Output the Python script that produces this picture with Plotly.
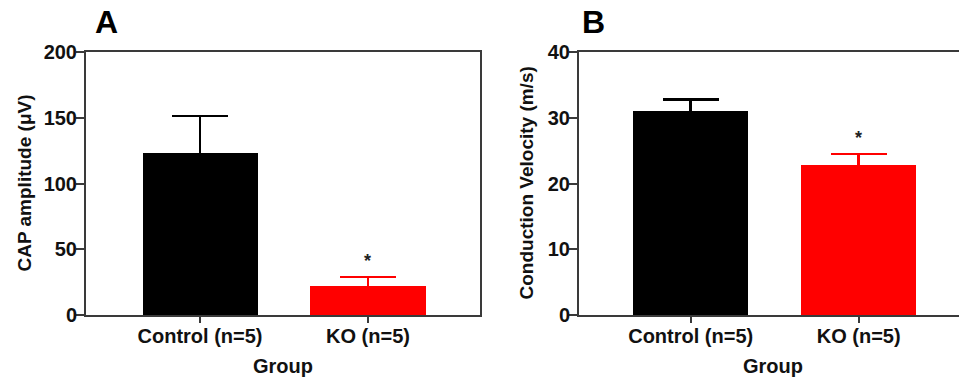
import plotly.graph_objects as go

groups = ["Control (n=5)", "KO (n=5)"]
cap_mean = [123.5, 22.0]
cap_sem = [28.0, 7.0]
cv_mean = [31.0, 22.8]
cv_sem = [1.8, 1.7]
colors = ["#000000", "#FF0000"]
cap_ticks = [0, 50, 100, 150, 200]
cv_ticks = [0, 10, 20, 30, 40]

FONT = "Liberation Sans, Arial, sans-serif"
OFF = 8  # page body margin
W, H = 967 - OFF, 380 - OFF


def px(x):
    return (x - OFF) / W


def py(y):
    return 1 - (y - OFF) / H


fig = go.Figure()

for i, g in enumerate(groups):
    fig.add_trace(go.Bar(
        x=[g], y=[cap_mean[i]], width=0.685,
        marker=dict(color=colors[i], line=dict(width=0)),
        error_y=dict(type="data", array=[cap_sem[i]], symmetric=True,
                     color=colors[i], thickness=2.5, width=28),
        xaxis="x", yaxis="y", showlegend=False))
    fig.add_trace(go.Bar(
        x=[g], y=[cv_mean[i]], width=0.685,
        marker=dict(color=colors[i], line=dict(width=0)),
        error_y=dict(type="data", array=[cv_sem[i]], symmetric=True,
                     color=colors[i], thickness=2.5, width=28),
        xaxis="x2", yaxis="y2", showlegend=False))

axcol = "#3a3a3a"
tickfont = dict(family=FONT, size=20, color="#111111", weight="bold")

ydom = [py(315), py(52)]
common = dict(showline=True, linecolor=axcol, linewidth=2, ticks="outside",
              tickwidth=1.5, tickcolor=axcol, tickfont=tickfont, showgrid=False,
              zeroline=False, automargin=False)

fig.update_layout(
    width=W, height=H,
    margin=dict(l=0, r=0, t=0, b=0, autoexpand=False),
    paper_bgcolor="white", plot_bgcolor="white",
    bargap=0,
    xaxis=dict(domain=[px(86), px(480)], type="category", range=[-0.679, 1.667],
               mirror=True, ticklen=6, anchor="y", ticklabelstandoff=-4, **common),
    yaxis=dict(domain=ydom, range=[0, 200], tickvals=cap_ticks,
               mirror=True, ticklen=8, anchor="x", ticklabelstandoff=-5, **common),
    xaxis2=dict(domain=[px(579), 1.0], type="category", range=[-0.665, 1.645],
                mirror=True, ticklen=6, anchor="y2", ticklabelstandoff=-4, **common),
    yaxis2=dict(domain=ydom, range=[0, 40], tickvals=cv_ticks,
                mirror=False, ticklen=8, anchor="x2", ticklabelstandoff=-5, **common),
)

ann = []
star = dict(family=FONT, size=18, color="#222", weight="bold")
ann.append(dict(x=groups[1], y=cap_mean[1] + cap_sem[1], xref="x", yref="y", text="*",
                showarrow=False, yshift=16, font=star))
ann.append(dict(x=groups[1], y=cv_mean[1] + cv_sem[1], xref="x2", yref="y2", text="*",
                showarrow=False, yshift=16, font=star))
big = dict(family=FONT, size=32, color="#000", weight="bold")
ann.append(dict(x=px(106), y=py(22), xref="paper", yref="paper", text="A", showarrow=False,
                xanchor="center", yanchor="middle", font=big))
ann.append(dict(x=px(593), y=py(22), xref="paper", yref="paper", text="B", showarrow=False,
                xanchor="center", yanchor="middle", font=big))
ttl = dict(family=FONT, size=19, color="#111111", weight="bold")
ann.append(dict(x=px(24), y=py(183.5), xref="paper", yref="paper", text="CAP amplitude (μV)",
                textangle=-90, showarrow=False, xanchor="center", yanchor="middle", font=ttl))
ann.append(dict(x=px(526), y=py(183.5), xref="paper", yref="paper", text="Conduction Velocity (m/s)",
                textangle=-90, showarrow=False, xanchor="center", yanchor="middle", font=ttl))
grp = dict(family=FONT, size=20, color="#111111", weight="bold")
ann.append(dict(x=px(283), y=py(366), xref="paper", yref="paper", text="Group",
                showarrow=False, xanchor="center", yanchor="middle", font=grp))
ann.append(dict(x=px(773), y=py(366), xref="paper", yref="paper", text="Group",
                showarrow=False, xanchor="center", yanchor="middle", font=grp))
fig.update_layout(annotations=ann)

fig.write_html("out.html")
